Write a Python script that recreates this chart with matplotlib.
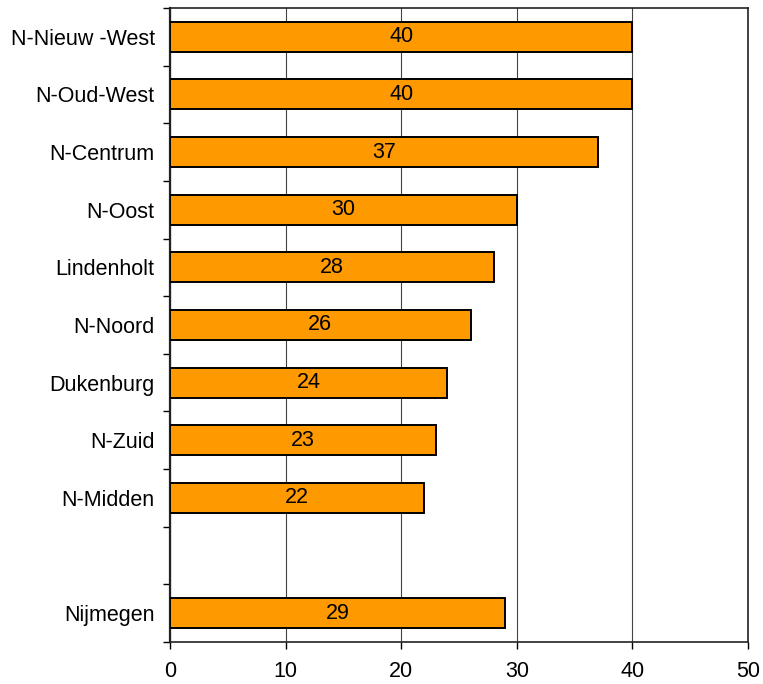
import numpy as np
import matplotlib.pyplot as plt

plt.rcParams['font.family'] = ['Liberation Sans', 'DejaVu Sans']

# gegevens (van boven naar beneden), lege rij tussen N-Midden en Nijmegen
wijken = ['N-Nieuw -West', 'N-Oud-West', 'N-Centrum', 'N-Oost', 'Lindenholt',
          'N-Noord', 'Dukenburg', 'N-Zuid', 'N-Midden', '', 'Nijmegen']
waarden = [40, 40, 37, 30, 28, 26, 24, 23, 22, None, 29]
xticks = [0, 10, 20, 30, 40, 50]

fs = 15.5

fig = plt.figure(figsize=(7.63, 6.84), dpi=100)
ax = fig.add_axes([170/763, 1 - 642/684, 578/763, 634/684])

n = len(wijken)
pos = np.arange(n)
for p, w in zip(pos, waarden):
    if w is None:
        continue
    ax.barh(p, w, height=0.52, color='#FF9900', edgecolor='black',
            linewidth=1.4, zorder=3)
    ax.text(w / 2, p, str(w), ha='center', va='center', fontsize=fs,
            color='black', zorder=4)

ax.set_ylim(n - 0.5, -0.5)
ax.set_xlim(0, 50)

# streepjes op de grenzen tussen categorieen
ax.set_yticks(np.arange(n + 1) - 0.5)
ax.set_yticklabels([])
ax.set_yticks(pos, minor=True)
ax.set_yticklabels(wijken, minor=True, fontsize=fs)
ax.tick_params(axis='y', which='minor', length=0, pad=11)
ax.tick_params(axis='y', which='major', length=5, width=1, direction='out')

ax.set_xticks(xticks)
ax.set_xticklabels([str(t) for t in xticks], fontsize=fs)
ax.tick_params(axis='x', length=5, width=1, direction='out', pad=9)

ax.grid(axis='x', color='#444444', linewidth=0.8, zorder=0)
for s in ax.spines.values():
    s.set_color('#222222')
    s.set_linewidth(1.2)
ax.spines['left'].set_linewidth(1.6)

fig.savefig('out.png', dpi=100)
